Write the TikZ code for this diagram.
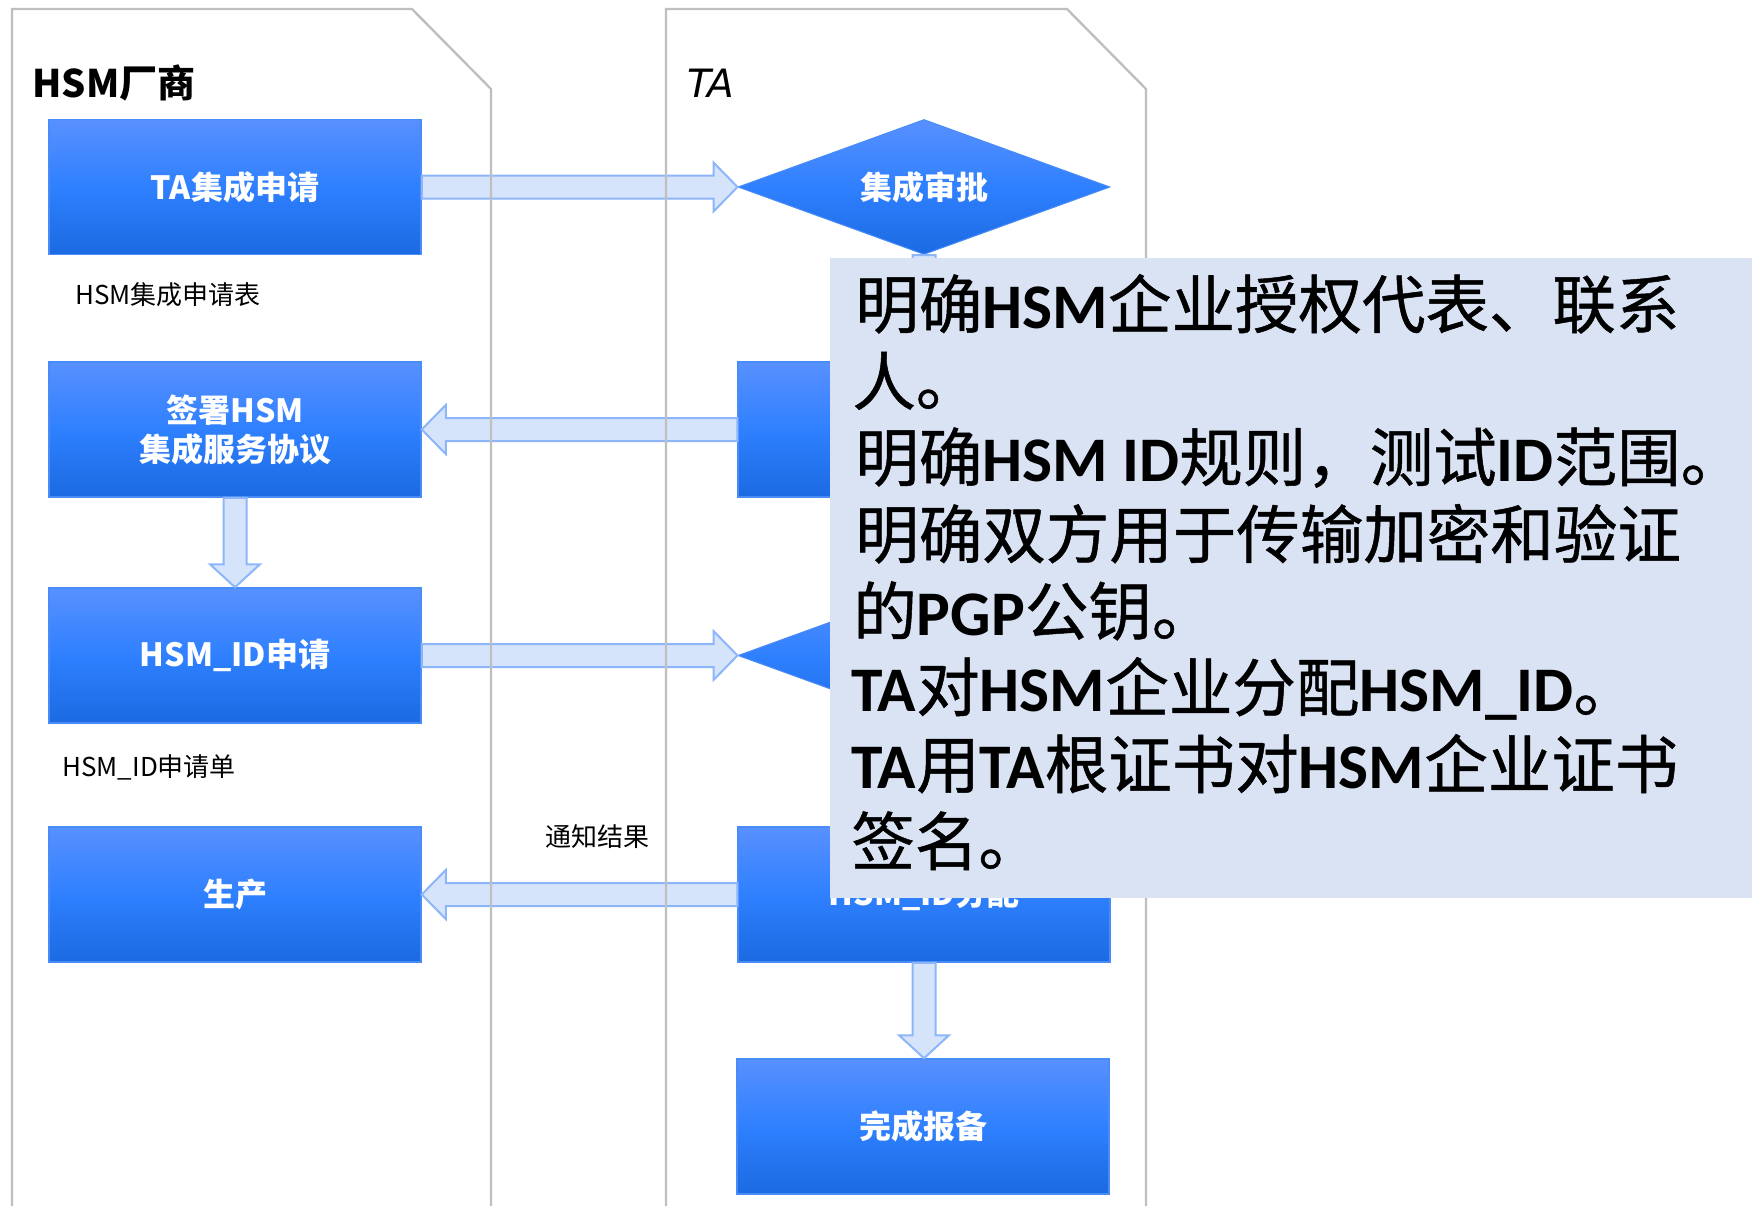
\documentclass[tikz,border=0pt]{standalone}
\usepackage{fontspec}
\setmainfont{Noto Sans CJK SC}
\newfontfamily\calloutfont{Noto Sans CJK SC}[FakeBold=0.8]
\newfontfamily\latfont{Carlito}
\newfontfamily\handfont{DejaVu Sans}
\usetikzlibrary{shapes.geometric,calc}
\definecolor{lanegray}{HTML}{BFBFBF}
\definecolor{btop}{HTML}{5890FF}
\definecolor{bmid}{HTML}{2F80FF}
\definecolor{bbot}{HTML}{1B6AE2}
\definecolor{bborder}{HTML}{4A8CF7}
\definecolor{afill}{HTML}{D6E4FB}
\definecolor{aline}{HTML}{8DB6FA}
\definecolor{cfill}{HTML}{DAE3F3}
\tikzset{
  lane/.style={draw=lanegray, line width=1.2pt},
  procbox/.style={rectangle, minimum width=186pt, minimum height=67.5pt, inner sep=0pt,
    top color=btop, bottom color=bbot, middle color=bmid, draw=bborder, line width=0.75pt,
    text=white, font=\fontsize{16}{19.5}\selectfont\bfseries, align=center},
  decbox/.style={diamond, aspect=2.76, minimum width=186pt, minimum height=67.5pt, inner sep=0pt,
    top color=btop, bottom color=bbot, middle color=bmid, draw=bborder, line width=0.5pt,
    text=white, font=\fontsize{16}{19.5}\selectfont\bfseries},
  barrow/.style={fill=afill, draw=aline, line width=1pt, line join=miter},
  note/.style={font=\fontsize{13}{15}\selectfont, text=black, inner sep=0pt},
  cline/.style={anchor=base west, inner sep=0pt, text=black, font=\calloutfont\fontsize{31.75}{38}\selectfont},
}
\newcommand\myRarrow[2]{\path[barrow] let \p1=(#1.east), \p2=(#2.west) in
  (\x1,\y1+5.75pt) -- (\x2-12pt,\y1+5.75pt) -- (\x2-12pt,\y1+12.25pt) -- (\x2,\y1)
  -- (\x2-12pt,\y1-12.25pt) -- (\x2-12pt,\y1-5.75pt) -- (\x1,\y1-5.75pt) -- cycle;}
\newcommand\myLarrow[2]{\path[barrow] let \p1=(#1.west), \p2=(#2.east) in
  (\x1,\y1+5.75pt) -- (\x2+12pt,\y1+5.75pt) -- (\x2+12pt,\y1+12.25pt) -- (\x2,\y1)
  -- (\x2+12pt,\y1-12.25pt) -- (\x2+12pt,\y1-5.75pt) -- (\x1,\y1-5.75pt) -- cycle;}
\newcommand\myDarrow[2]{\path[barrow] let \p1=(#1.south), \p2=(#2.north) in
  (\x1-5.75pt,\y1) -- (\x1-5.75pt,\y2+11.5pt) -- (\x1-12.5pt,\y2+11.5pt) -- (\x1,\y2)
  -- (\x1+12.5pt,\y2+11.5pt) -- (\x1+5.75pt,\y2+11.5pt) -- (\x1+5.75pt,\y1) -- cycle;}
\newcommand\lb[1]{{\latfont\bfseries #1}}
\begin{document}
\begin{tikzpicture}[x=0.5pt,y=-0.5pt]
\useasboundingbox (0,0) rectangle (1752,1206);
\fill[white] (0,0) rectangle (1752,1206);

% HSM vendor lane
\node[procbox] (b1) at (235,187) {TA集成申请};
\node[procbox] (b2) at (235,429.5) {签署HSM\\集成服务协议};
\node[procbox] (b3) at (235,655.5) {HSM\_ID申请};
\node[procbox] (b4) at (235,894.5) {生产};

% TA lane
\node[decbox] (d1) at (924,187) {集成审批};
\node[procbox] (t2) at (924,429.5) {};
\node[decbox] (d2) at (924,655.5) {};
\node[procbox] (t4) at (924,894.5) {HSM\_ID分配};
\node[procbox] (t5) at (923,1126.5) {完成报备};

% block arrows
\myRarrow{b1}{d1}
\myLarrow{t2}{b2}
\myDarrow{b2}{b3}
\myRarrow{b3}{d2}
\myLarrow{t4}{b4}
\myDarrow{d1}{t2}
\myDarrow{t2}{d2}
\myDarrow{d2}{t4}
\myDarrow{t4}{t5}

% lanes
\draw[lane] (12,1206) -- (12,9) -- (412,9) -- (491,89) -- (491,1206);
\draw[lane] (666,1206) -- (666,9) -- (1067,9) -- (1146,89) -- (1146,1206);

% lane titles
\node[anchor=base west, inner sep=0pt, font=\fontsize{19}{21}\selectfont\bfseries] (h1) at (32,97) {HSM厂商};
\node[anchor=base west, inner sep=0pt, font=\handfont\fontsize{19.5}{21}\selectfont\slshape] (h2) at (687,97) {TA};

% notes
\node[note, anchor=west] (n1) at (75,295) {HSM集成申请表};
\node[note, anchor=west] (n2) at (62,767) {HSM\_ID申请单};
\node[note] (n3) at (597,837) {通知结果};

% callout
\fill[cfill] (830,258) rectangle (1752,898);
\node[cline] (c1) at (855,328) {明确\lb{HSM}企业授权代表、联系};
\node[cline] (c2) at (852,405) {人。};
\node[cline] (c3) at (855,481) {明确\lb{HSM ID}规则，测试\lb{ID}范围。};
\node[cline] (c4) at (855,558) {明确双方用于传输加密和验证};
\node[cline] (c5) at (853,635) {的\lb{PGP}公钥。};
\node[cline] (c6) at (851,711) {\lb{TA}对\lb{HSM}企业分配\lb{HSM\_ID}。};
\node[cline] (c7) at (851,788) {\lb{TA}用\lb{TA}根证书对\lb{HSM}企业证书};
\node[cline] (c8) at (851,865) {签名。};
\end{tikzpicture}
\end{document}
